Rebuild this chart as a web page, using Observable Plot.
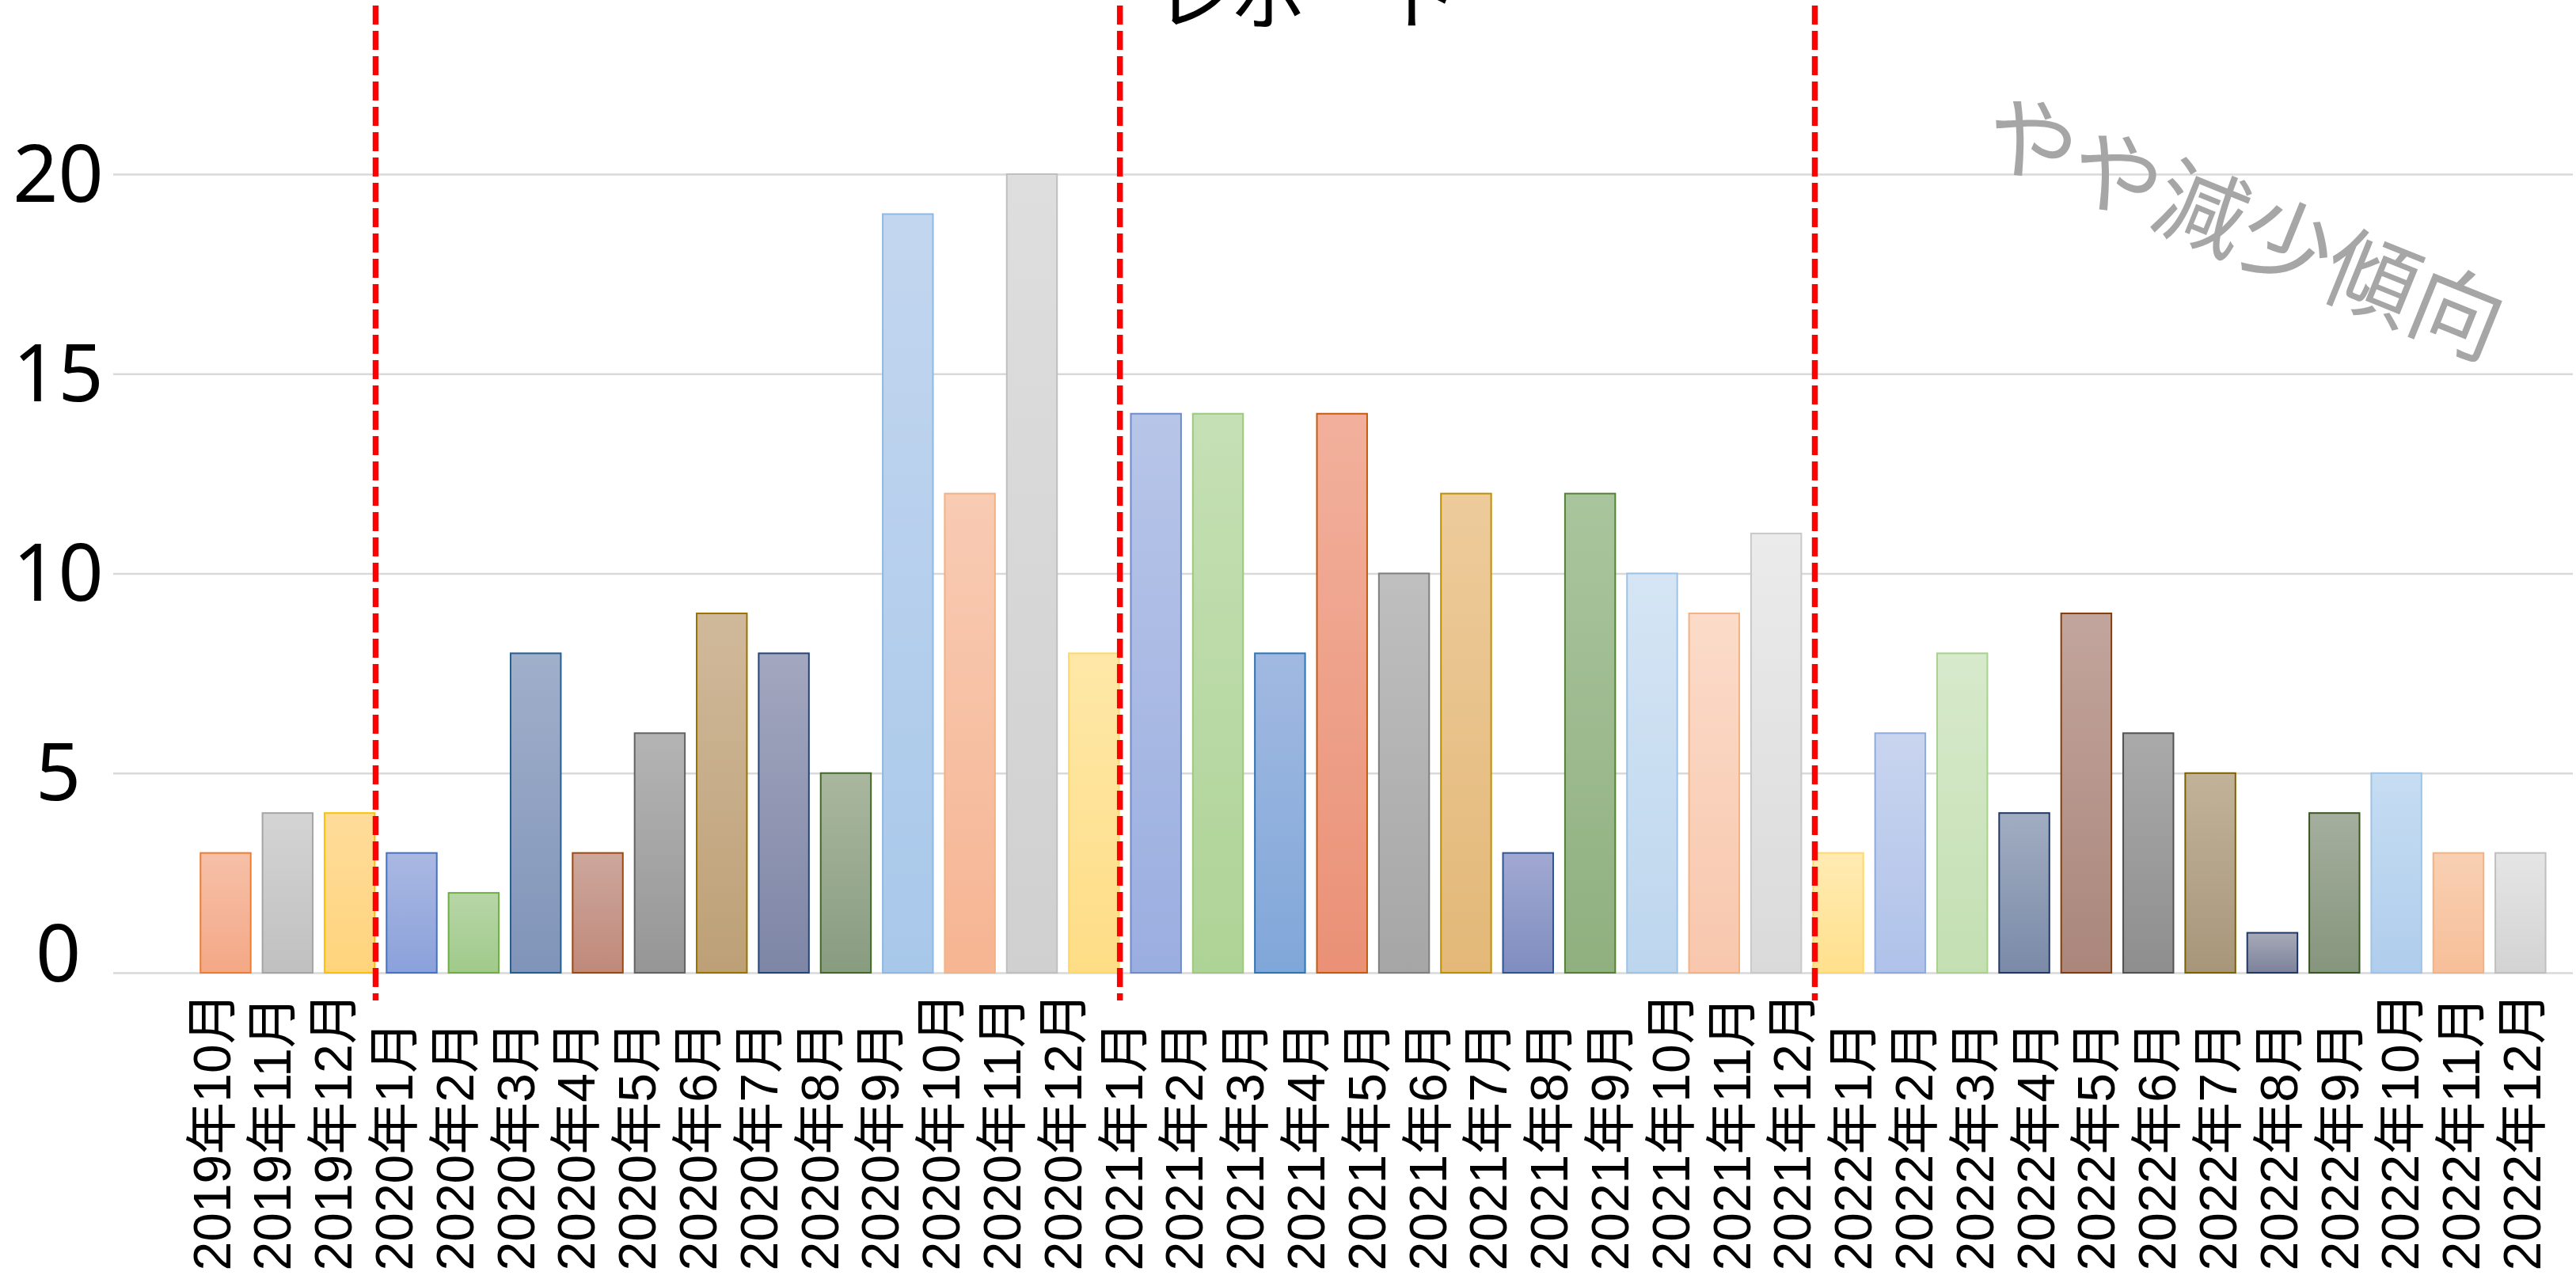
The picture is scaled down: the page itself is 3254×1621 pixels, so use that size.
<!DOCTYPE html>
<html>
<head>
<meta charset="utf-8">
<script src="https://cdn.jsdelivr.net/npm/d3@7"></script>
<script src="https://cdn.jsdelivr.net/npm/@observablehq/plot@0.6"></script>
<style>
  html, body { margin: 0; padding: 0; background: #fff; }
  #wrap { position: relative; width: 3254px; height: 1621px; overflow: hidden; background: #fff; }
  #wrap svg { position: absolute; left: 0; top: 0; }
</style>
</head>
<body>
<div id="wrap"></div>
<script>
// ---------- data ----------
const titleText = ["レポート"];

const monthLabels = [
  "2019年10月","2019年11月","2019年12月",
  "2020年1月","2020年2月","2020年3月","2020年4月","2020年5月","2020年6月",
  "2020年7月","2020年8月","2020年9月","2020年10月","2020年11月","2020年12月",
  "2021年1月","2021年2月","2021年3月","2021年4月","2021年5月","2021年6月",
  "2021年7月","2021年8月","2021年9月","2021年10月","2021年11月","2021年12月",
  "2022年1月","2022年2月","2022年3月","2022年4月","2022年5月","2022年6月",
  "2022年7月","2022年8月","2022年9月","2022年10月","2022年11月","2022年12月"
];

// bar values as drawn (38 bars)
const values2019 = [3, 4, 4];
const values2020 = [3, 2, 8, 3, 6, 9, 8, 5, 19, 12, 20, 8];
const values2021 = [14, 14, 8, 14, 10, 12, 3, 12, 10, 9, 11];
const values2022 = [3, 6, 8, 4, 9, 6, 5, 1, 4, 5, 3, 3];

const yTicks = [0, 5, 10, 15, 20];

const annotations = [{ label: "やや減少傾向", bar: 33, value: 18.6 }];

// ---------- styles (per-bar gradient top, bottom, stroke) ----------
const palette = [
  ["#F6C0A8","#F4A886","#ED7D31"],
  ["#D4D4D4","#C0C0C0","#A5A5A5"],
  ["#FEDC9A","#FFD47C","#FFC000"],
  ["#AAB8E2","#8BA1DB","#4472C4"],
  ["#B7D6A7","#A0CA8A","#70AD47"],
  ["#A0AFCA","#8094B9","#255E91"],
  ["#CDA79D","#C0897A","#9E480E"],
  ["#B4B4B4","#969696","#636363"],
  ["#D0B99B","#BDA076","#997300"],
  ["#A3A7BF","#7E86A6","#264478"],
  ["#A9B79F","#889C80","#43682B"],
  ["#C3D6EF","#A8C8EA","#8FB9E3"],
  ["#F8CBB3","#F6B593","#F4B183"],
  ["#DEDEDE","#D0D0D0","#BFBFBF"],
  ["#FEE8A8","#FEDD86","#FFD966"],
  ["#B7C5E8","#9BAEE0","#6F8BCB"],
  ["#C5E0B5","#AED396","#9CC97F"],
  ["#A1B9E1","#80A7D9","#2E75B6"],
  ["#F2B09C","#EA9177","#C55A11"],
  ["#BFBFBF","#A6A6A6","#7F7F7F"],
  ["#EDCB9B","#E3B878","#BF9000"],
  ["#A1A9D2","#7F8DBF","#2F5597"],
  ["#A9C59D","#90B080","#548235"],
  ["#D5E5F4","#BDD6EE","#9DC3E6"],
  ["#FBDBC9","#F8C7AD","#F4B183"],
  ["#EBEBEB","#DADADA","#C9C9C9"],
  ["#FFEBB3","#FFE08C","#FFD966"],
  ["#C9D5EF","#B0C2EA","#8FAADC"],
  ["#D7EACC","#C4DFB2","#A9D18E"],
  ["#A1ADC1","#7A8AA8","#203864"],
  ["#C2A59D","#AA867B","#843C0C"],
  ["#AAAAAA","#8E8E8E","#525252"],
  ["#C1B399","#A8967A","#7F6000"],
  ["#A7AAB8","#7C829C","#203864"],
  ["#A4AF9D","#86957D","#385723"],
  ["#C6DDF2","#AFCDEC","#9DC3E6"],
  ["#F9D0B3","#F7BF99","#F4B183"],
  ["#E5E5E5","#D3D3D3","#BFBFBF"]
];

// ---------- build ----------
const W = 3254, H = 1621;
const barValues = [...values2019, ...values2020, ...values2021, ...values2022];
const bars = barValues.map((v, i) => ({ i, v }));
const yearStarts = [
  values2019.length,
  values2019.length + values2020.length,
  values2019.length + values2020.length + values2021.length
];

const dashed = { stroke: "#ff0000", strokeWidth: 7.5, strokeDasharray: "24,8" };
const yAxisStyle = {
  tickSize: 0, tickPadding: 0, textAnchor: "middle", dx: -70, fontSize: 100,
  fill: "black", fontFamily: "'Noto Sans', sans-serif", label: null
};

const chartA = Plot.plot({
  width: W, height: H,
  marginLeft: 143, marginRight: 4, marginTop: 7, marginBottom: H - 1264,
  x: { type: "band", domain: bars.map(d => d.i), range: [245.8, 3223], round: false,
       paddingInner: 0.19, paddingOuter: 0.095, axis: null },
  y: { domain: [0, 20], range: [1229, 220], axis: null },
  color: { type: "identity" },
  style: { background: "transparent", fontFamily: "'Noto Sans', 'Noto Sans CJK JP', sans-serif", color: "black" },
  marks: [
    Plot.ruleY(yTicks, { y: d => d, stroke: "#d9d9d9", strokeWidth: 2.5 }),
    Plot.barY(bars, {
      x: "i", y: "v",
      fill: d => `url(#bargrad${d.i})`,
      stroke: d => palette[d.i][2],
      strokeWidth: 2
    }),
    Plot.axisY({ ...yAxisStyle, ticks: yTicks.filter(t => t > 0), dy: 2 }),
    Plot.axisY({ ...yAxisStyle, ticks: yTicks.filter(t => t === 0), dy: -22 }),
    Plot.ruleX(yearStarts.slice(0, 2), { x: d => d, dx: -46, ...dashed }),
    Plot.ruleX(yearStarts.slice(2), { x: d => d, dx: -30, ...dashed }),
    Plot.text(annotations, {
      x: "bar", y: "value", text: "label", dx: -38,
      rotate: 22, fill: "#a6a6a6", fontSize: 116, textAnchor: "middle",
      fontFamily: "'Noto Sans CJK JP', sans-serif"
    }),
    Plot.text(titleText, {
      text: d => d, frameAnchor: "top", dx: -46, dy: -47,
      fontSize: 96, fill: "black", textAnchor: "middle",
      fontFamily: "'Noto Sans CJK JP', sans-serif"
    })
  ]
});

// gradient definitions referenced by the bar fills
const defs = d3.create("svg:defs");
palette.forEach(([top, bottom], i) => {
  const g = defs.append("linearGradient").attr("id", "bargrad" + i)
    .attr("x1", 0).attr("y1", 0).attr("x2", 0).attr("y2", 1);
  g.append("stop").attr("offset", 0).attr("stop-color", top);
  g.append("stop").attr("offset", 1).attr("stop-color", bottom);
});
chartA.insertBefore(defs.node(), chartA.firstChild);

const chartB = Plot.plot({
  width: W, height: H,
  marginLeft: 230.6, marginRight: W - 3225.8, marginTop: 0, marginBottom: H - 1605,
  x: { type: "band", domain: monthLabels, padding: 0, round: false, axis: null },
  style: { background: "transparent", color: "black" },
  marks: [
    Plot.text(monthLabels, {
      x: d => d, text: d => d, frameAnchor: "bottom",
      rotate: -90, textAnchor: "start", lineAnchor: "middle",
      fontSize: 66, fill: "black",
      fontFamily: "'Liberation Sans', 'Noto Sans CJK JP', sans-serif"
    })
  ]
});

const wrap = document.getElementById("wrap");
wrap.appendChild(chartB);
wrap.appendChild(chartA);
</script>
</body>
</html>
